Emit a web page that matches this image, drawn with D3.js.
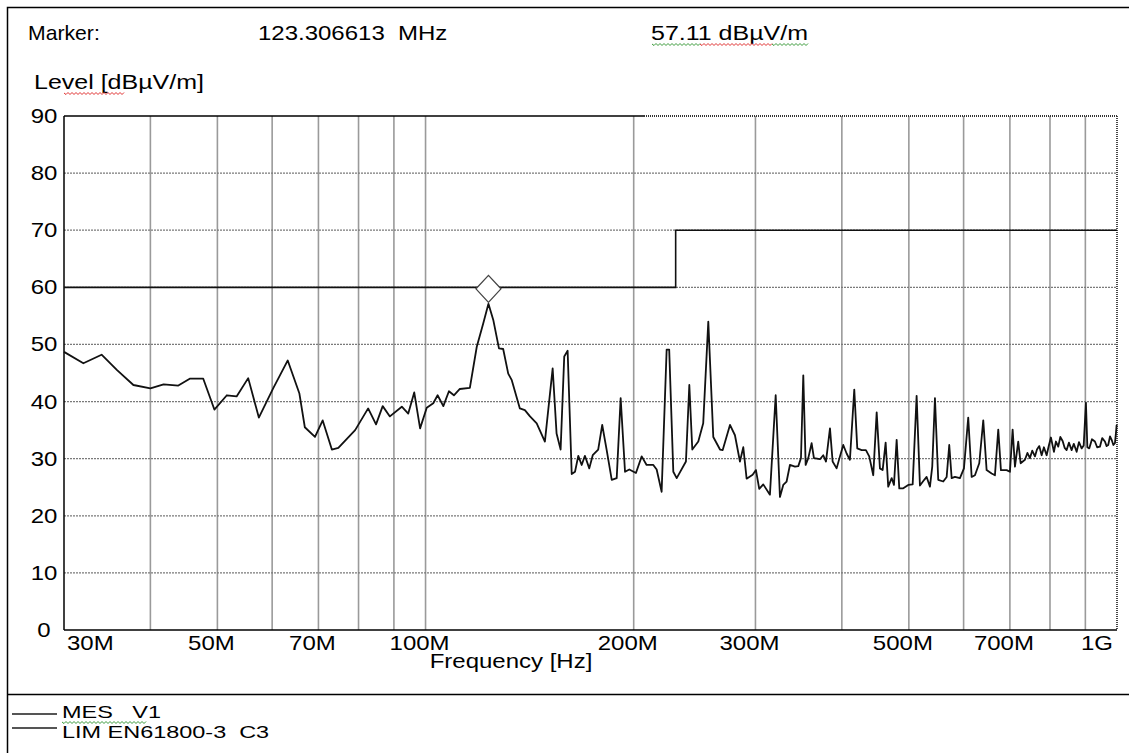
<!DOCTYPE html>
<html>
<head>
<meta charset="utf-8" />
<title>Level [dBµV/m] vs Frequency</title>
<style>
  body { margin: 0; background: #fff; }
  svg text {
    font-family: "Liberation Sans", Arial, sans-serif;
    font-size: 20px;
    fill: #000;
    white-space: pre;
  }
  svg text.legend { font-size: 17px; }
  .frame { fill: none; stroke: #000; stroke-width: 1.5px; }
  .vgrid { stroke: #9a9a9a; stroke-width: 1.6px; }
  .hgrid { stroke: #7a7a7a; stroke-width: 1.2px; stroke-dasharray: 2,1; }
  .axis { stroke: #000; stroke-width: 1.5px; }
  .dotted { stroke: #333; stroke-width: 1.8px; stroke-dasharray: 1,1; }
  .mes { fill: none; stroke: #111; stroke-width: 1.8px; stroke-linejoin: round; }
  .lim { fill: none; stroke: #111; stroke-width: 1.6px; }
  .marker { fill: #fff; stroke: #444; stroke-width: 1.3px; }
  .legend-line { stroke: #555; stroke-width: 2px; }
  .squiggle { fill: none; stroke-width: 1px; }
</style>
</head>
<body>
<svg width="1129" height="753"></svg>
<script src="https://d3js.org/d3.v7.min.js"></script>
<script>
// measured trace (MHz, dBµV/m)
const freqMHz = [
  30.0, 32.0, 34.0, 35.8, 37.8, 40.0, 41.8, 43.9, 45.6, 47.7,
  49.5, 51.6, 53.3, 55.4, 57.4, 60.2, 63.2, 65.7, 66.9, 69.2,
  71.0, 73.2, 74.8, 79.1, 82.6, 84.8, 86.7, 88.8, 92.4, 94.4,
  96.3, 98.2, 100.4, 102.6, 104.1, 106.1, 108.1, 109.9, 112.1, 115.9,
  118.6, 121.2, 123.3, 125.3, 127.7, 129.5, 131.7, 133.2, 136.9, 139.2,
  141.6, 144.8, 148.8, 152.7, 154.7, 156.8, 158.7, 160.5, 162.7, 164.5,
  166.3, 168.2, 170.0, 172.5, 174.5, 177.7, 180.1, 182.8, 185.9, 189.0,
  191.5, 194.3, 197.1, 201.5, 205.4, 208.8, 213.5, 215.9, 219.5, 223.2,
  225.1, 228.2, 230.8, 238.0, 240.7, 243.1, 248.0, 252.1, 256.4, 260.7,
  266.6, 269.0, 275.6, 280.2, 284.9, 288.1, 291.3, 297.2, 300.5, 303.8,
  307.9, 314.8, 320.9, 325.5, 329.1, 332.8, 336.5, 342.2, 346.0, 349.1,
  351.8, 354.6, 357.7, 361.7, 364.5, 371.9, 376.0, 379.4, 384.5, 387.9,
  393.1, 397.5, 401.9, 406.4, 410.9, 416.9, 421.1, 427.3, 433.4, 438.2,
  444.1, 449.2, 454.1, 458.2, 462.8, 466.8, 472.2, 475.8, 480.1, 484.3,
  490.8, 499.0, 506.4, 513.1, 518.8, 526.3, 530.5, 536.4, 540.5, 545.4,
  551.4, 560.7, 567.1, 572.0, 576.6, 582.9, 592.7, 600.7, 609.3, 616.3,
  623.1, 632.1, 640.6, 647.8, 658.7, 666.0, 673.4, 679.4, 692.5, 700.1,
  706.4, 711.9, 719.7, 725.5, 736.0, 742.0, 748.3, 754.0, 760.9, 766.0,
  771.9, 778.1, 784.0, 791.1, 797.0, 802.5, 810.6, 816.0, 822.3, 828.0,
  834.4, 840.0, 845.6, 852.0, 859.8, 866.0, 874.2, 881.0, 888.9, 895.0,
  901.7, 906.0, 911.7, 920.0, 929.1, 936.0, 944.7, 952.0, 960.6, 966.0,
  971.2, 977.0, 982.3, 988.0, 993.1, 996.0, 998.8
];
const levelDb = [
  48.7, 46.7, 48.2, 45.5, 42.9, 42.3, 43.0, 42.8, 44.0, 44.0,
  38.6, 41.1, 40.9, 44.1, 37.2, 42.3, 47.2, 41.4, 35.5, 33.8,
  36.7, 31.6, 31.9, 35.0, 38.8, 36.0, 39.2, 37.4, 39.1, 37.9,
  41.6, 35.3, 38.9, 39.7, 41.1, 39.2, 41.8, 41.1, 42.2, 42.4,
  49.6, 53.7, 57.11, 54.3, 49.3, 49.2, 44.9, 43.8, 38.8, 38.5,
  37.4, 36.2, 33.0, 45.8, 34.4, 31.6, 47.9, 48.9, 27.3, 27.7,
  30.5, 28.9, 30.5, 28.3, 30.6, 31.6, 35.9, 31.5, 26.3, 26.6,
  40.6, 27.7, 28.1, 27.5, 30.4, 28.9, 28.9, 28.1, 24.2, 49.1,
  49.1, 27.7, 26.6, 29.5, 42.9, 31.6, 33.0, 36.2, 54.0, 33.8,
  31.6, 31.5, 35.9, 34.1, 29.5, 32.0, 26.5, 27.2, 28.0, 24.7,
  25.5, 23.7, 41.1, 23.3, 25.4, 26.0, 28.9, 28.6, 28.7, 30.1,
  44.6, 28.9, 30.1, 32.7, 30.1, 29.9, 30.6, 29.5, 35.3, 29.5,
  28.3, 30.4, 32.4, 30.9, 29.8, 42.1, 31.8, 31.5, 31.5, 30.4,
  27.1, 38.1, 28.3, 28.0, 32.8, 25.1, 26.6, 25.4, 33.3, 24.8,
  24.8, 25.4, 25.5, 41.0, 25.3, 26.3, 26.8, 25.1, 28.6, 40.6,
  26.3, 26.0, 26.8, 32.4, 26.6, 26.8, 26.6, 28.3, 37.2, 26.8,
  27.1, 29.2, 36.7, 28.0, 27.4, 27.1, 35.1, 28.0, 28.0, 27.7,
  35.1, 28.6, 33.0, 29.2, 29.8, 31.0, 30.1, 31.4, 30.4, 31.6,
  32.2, 30.6, 32.0, 30.6, 32.3, 33.7, 31.2, 33.0, 32.1, 33.8,
  33.1, 31.9, 31.5, 32.8, 31.5, 32.6, 31.2, 32.9, 31.8, 32.3,
  39.8, 32.0, 31.8, 33.4, 33.0, 32.0, 32.1, 33.6, 33.0, 32.2,
  32.4, 33.9, 33.3, 32.4, 32.7, 34.2, 35.9
];

// limit line EN61800-3 C3
const limitFreq = [30, 230, 230, 1000];
const limitLevel = [60, 60, 70, 70];

const gridFreqs = [40, 50, 60, 70, 80, 90, 100, 200, 300, 400, 500, 600, 700, 800, 900];
const xTickValues = [30, 50, 70, 100, 200, 300, 500, 700, 1000];
const xTickLabels = ["30M", "50M", "70M", "100M", "200M", "300M", "500M", "700M", "1G"];
const yTicks = [0, 10, 20, 30, 40, 50, 60, 70, 80, 90];

const markerFreq = 123.306613;
const markerLevel = 57.11;

const svg = d3.select("svg");
const plotLeft = 64, plotRight = 1117, plotTop = 116, plotBottom = 630;

const x = d3.scaleLog().domain([30, 1000]).range([plotLeft, plotRight]);
const y = d3.scaleLinear().domain([0, 90]).range([plotBottom, plotTop]);

// text slightly stretched horizontally like the source
function label(px, py, str, anchor, sx) {
  return svg.append("text")
    .attr("transform", `translate(${px},${py}) scale(${sx || 1.2},1)`)
    .attr("text-anchor", anchor || "start")
    .text(str);
}

// spell-check style wavy underline (as in the source document)
function squiggle(x0, x1, yy, color) {
  let d = `M${x0},${yy}`;
  for (let px = x0 + 2, k = 1; px <= x1; px += 2, k++) {
    d += ` L${px},${yy + (k % 2 ? 1.5 : -0.5)}`;
  }
  svg.append("path").attr("class", "squiggle").attr("stroke", color).attr("d", d);
}

// outer frame + legend separator
svg.append("rect").attr("class", "frame")
  .attr("x", 7.5).attr("y", 7.5).attr("width", 1140).attr("height", 770);
svg.append("line").attr("class", "axis")
  .attr("x1", 7).attr("x2", 1129).attr("y1", 694.5).attr("y2", 694.5);

// grid
svg.append("g").selectAll("line")
  .data(gridFreqs)
  .join("line")
  .attr("class", "vgrid")
  .attr("x1", d => x(d)).attr("x2", d => x(d))
  .attr("y1", plotTop).attr("y2", plotBottom);

svg.append("g").selectAll("line")
  .data(yTicks.filter(d => d > 0 && d < 90))
  .join("line")
  .attr("class", "hgrid")
  .attr("x1", plotLeft).attr("x2", plotRight)
  .attr("y1", d => y(d)).attr("y2", d => y(d));

// plot border
svg.append("line").attr("class", "axis")
  .attr("x1", plotLeft).attr("x2", plotLeft).attr("y1", plotTop).attr("y2", plotBottom);
svg.append("line").attr("class", "axis")
  .attr("x1", plotLeft).attr("x2", plotRight).attr("y1", plotBottom).attr("y2", plotBottom);
svg.append("line").attr("class", "axis")
  .attr("x1", plotLeft).attr("x2", x(207)).attr("y1", plotTop).attr("y2", plotTop);
svg.append("line").attr("class", "dotted")
  .attr("x1", x(207)).attr("x2", plotRight).attr("y1", plotTop).attr("y2", plotTop);
svg.append("line").attr("class", "dotted")
  .attr("x1", plotRight).attr("x2", plotRight).attr("y1", plotTop).attr("y2", plotBottom);

// limit
const traceLine = d3.line().x(d => x(d[0])).y(d => y(d[1]));
svg.append("path").attr("class", "lim")
  .attr("d", traceLine(d3.zip(limitFreq, limitLevel)));

// measurement
svg.append("path").attr("class", "mes")
  .attr("d", traceLine(d3.zip(freqMHz, levelDb)));

// marker diamond sitting on the peak
const mx = x(markerFreq), my = y(markerLevel) - 15;
svg.append("path").attr("class", "marker")
  .attr("d", `M${mx},${my - 13.5} L${mx + 12.5},${my} L${mx},${my + 13.5} L${mx - 12.5},${my} Z`);

// y tick labels
yTicks.forEach(t => label(44, y(t) + 7, String(t), "middle"));

// x tick labels
xTickValues.forEach((v, i) => {
  if (i === 0) label(x(v) + 3, 650, xTickLabels[i], "start");
  else if (i === xTickValues.length - 1) label(x(v) - 4, 650, xTickLabels[i], "end");
  else label(x(v) - 6, 650, xTickLabels[i], "middle");
});

label(511, 668, "Frequency [Hz]", "middle");

// header
label(28, 40, "Marker:", "start", 1.06);
label(258, 40, "123.306613  MHz");
label(651, 40, "57.11 dBµV/m", "start", 1.25);
label(34, 89, "Level [dBµV/m]", "start", 1.25);
squiggle(652, 700, 44, "#3a9a3a");
squiggle(700, 772, 44, "#e03030");
squiggle(772, 808, 44, "#3a9a3a");
squiggle(64, 124, 93, "#e03030");

// legend
svg.append("line").attr("class", "legend-line")
  .attr("x1", 12).attr("x2", 57).attr("y1", 714).attr("y2", 714);
svg.append("line").attr("class", "legend-line")
  .attr("x1", 12).attr("x2", 57).attr("y1", 728).attr("y2", 728);
label(62, 718, "MES   V1", "start", 1.38).attr("class", "legend");
label(62, 738, "LIM EN61800-3  C3", "start", 1.38).attr("class", "legend");
squiggle(62, 146, 722, "#3a9a3a");
</script>
</body>
</html>
